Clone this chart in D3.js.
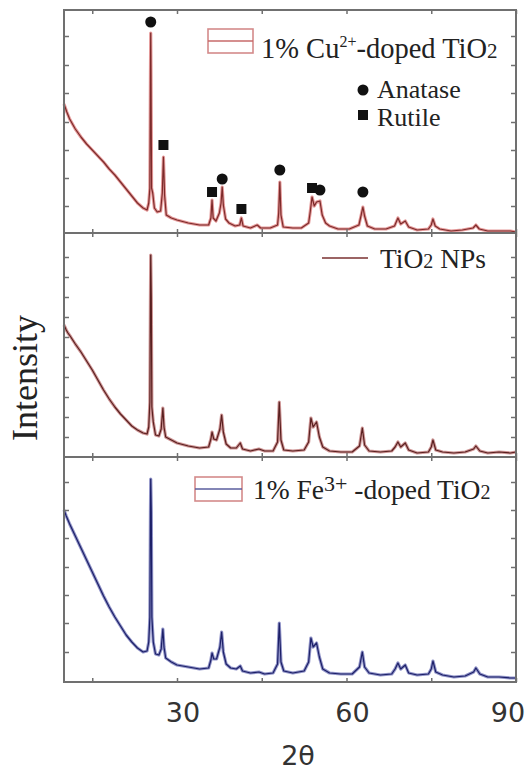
<!DOCTYPE html>
<meta charset="utf-8">
<style>
body { margin: 0; background: #fff; }
.frame { fill: none; stroke: #707070; stroke-width: 2px; }
.serif { font-family: "Liberation Serif", "DejaVu Serif", serif; fill: #222; }
.sans { font-family: "DejaVu Sans", sans-serif; fill: #333; }
</style>
<svg width="528" height="772"></svg>
<script src="https://d3js.org/d3.v7.min.js"></script>
<script>
// XRD patterns, 2theta (deg) vs intensity (a.u.)
var cuDoped = [
  [10.0,129],[10.5,121],[11,114],[12,104],[13,96],[14,89],[15,83],[16,77],[17,71],[18,64],
  [19,58],[20,51],[21,44],[22,37],[23,30],[24,25],[24.7,23],[25.0,30],[25.2,45],[25.3,160],
  [25.35,200],[25.4,160],[25.5,45],[25.7,40],[26.0,25],[26.5,21],[27.1,22],[27.4,40],[27.6,76],[27.8,38],
  [28.1,18],[29,15],[30,13],[32,10],[34,8],[35.6,8],[36.0,15],[36.2,33],[36.4,15],[36.9,12],
  [37.5,20],[37.8,30],[38.0,46],[38.2,28],[38.6,14],[39.2,10],[40.3,7],[41.1,8],[41.4,15],[41.7,7],
  [43,5],[44.2,8],[44.8,5],[46.5,5],[47.8,8],[48.0,20],[48.2,51],[48.4,18],[48.8,6],[50.5,5],
  [52,5],[53.3,10],[53.6,22],[53.9,36],[54.3,27],[54.7,31],[55.3,32],[55.7,18],[56.3,10],[57,7],
  [58.5,4],[60.5,4],[62.2,8],[62.6,18],[62.9,26],[63.2,17],[63.7,7],[65,4],[67,4],[68.5,7],
  [69.1,15],[69.6,9],[70.4,12],[71,6],[72.5,3],[74.5,4],[75.0,8],[75.3,14],[75.7,7],[76.5,4],
  [78.5,2],[80.5,3],[82.4,5],[82.9,8],[83.5,4],[85,2],[87,2],[89,2],[90,1]
];
var tio2 = [
  [10.0,132],[10.4,127],[10.7,124],[11.2,120],[12,113],[13,105],[14,96],[15,87],[16,77],[17,67],
  [18,58],[19,50],[20,43],[21,37],[22,31],[23,27],[24,24],[24.7,23],[25.0,30],[25.2,55],
  [25.3,160],[25.35,202],[25.45,160],[25.55,50],[25.8,35],[26.2,22],[26.8,21],[27.2,28],[27.5,49],[27.7,30],
  [28.0,20],[29,17],[30,14],[32,11],[34,9],[35.6,10],[36.0,18],[36.2,25],[36.5,18],[37.0,17],
  [37.6,28],[37.9,42],[38.2,25],[38.7,13],[39.5,9],[40.5,9],[41.2,14],[41.6,8],[43,6],[44.5,8],
  [45.5,6],[47,6],[47.8,15],[48.1,55],[48.4,17],[48.9,7],[50.5,6],[52.5,7],[53.3,15],[53.7,39],
  [54.1,30],[54.7,35],[55.2,20],[55.8,10],[57,6],[59,5],[61,5],[62.3,11],[62.8,29],[63.2,12],
  [64,6],[66,5],[68,6],[68.6,10],[69.1,15],[69.6,10],[70.4,14],[71,7],[72.5,4],[74.5,5],
  [75.0,10],[75.3,17],[75.8,7],[77,5],[79,4],[81,5],[82.5,8],[82.9,11],[83.6,6],[85,4],
  [87,5],[89,4],[90,5]
];
var feDoped = [
  [10.0,172],[10.4,166],[11,158],[12,146],[13,134],[14,122],[15,110],[16,98],[17,86],[18,75],
  [19,65],[20,56],[21,47],[22,40],[23,34],[24,30],[24.7,31],[25.0,40],[25.2,65],[25.3,170],
  [25.35,203],[25.45,170],[25.55,65],[25.8,40],[26.2,28],[26.8,27],[27.2,33],[27.5,53],[27.7,35],[28.0,24],
  [29,20],[30,17],[32,15],[34,13],[35.6,14],[36.0,22],[36.2,29],[36.5,23],[37.0,23],[37.6,35],
  [37.9,50],[38.2,30],[38.7,18],[39.5,14],[40.5,13],[41.2,16],[41.6,11],[43,9],[44.5,10],[45.5,8],
  [47,9],[47.8,18],[48.1,59],[48.4,20],[48.9,11],[50.5,9],[52.5,11],[53.3,20],[53.7,44],[54.1,35],
  [54.7,39],[55.2,25],[55.8,13],[57,9],[59,8],[61,8],[62.3,15],[62.8,30],[63.2,15],[64,9],
  [66,7],[68,8],[68.6,13],[69.1,19],[69.6,13],[70.4,17],[71,9],[72.5,7],[74.5,8],[75.0,13],
  [75.3,21],[75.8,10],[77,7],[79,5],[81,6],[82.5,10],[82.9,14],[83.6,8],[85,5],[87,5],
  [89,4],[90,4]
];
// phase markers on the Cu-doped pattern
var anatasePeaks = [[25.35,211],[38.0,54],[48.2,63],[55.3,43],[62.9,41]];
var rutilePeaks = [[27.6,88],[36.2,41],[41.4,24],[53.9,45]];

var xTicks = [15, 30, 45, 60, 75, 90];
var xLabels = [30, 60, 90];
var topTicks = [27, 55, 83, 111, 140, 168, 197];
var midTicks = [20, 40, 60, 80, 100, 120, 140, 160, 180, 200];
var botTicks = [30, 59, 87, 115, 144, 172, 200];

var svg = d3.select("svg");
var left = 64, right = 516;

var x = d3.scaleLinear().domain([10, 90]).range([left, right]);

var panels = [
  {data: cuDoped, top: 10, bottom: 233, max: 223, ticks: topTicks, halo: "#e59a9a", core: "#7d2b2b"},
  {data: tio2, top: 233, bottom: 457, max: 224, ticks: midTicks, halo: "#cf9797", core: "#5a2020"},
  {data: feDoped, top: 457, bottom: 682, max: 225, ticks: botTicks, halo: "#9194c8", core: "#1d2068"}
];

panels.forEach(function(p) {
  var y = d3.scaleLinear().domain([0, p.max]).range([p.bottom, p.top]);
  p.y = y;
  var g = svg.append("g");

  var line = d3.line()
    .x(function(d) { return x(d[0]); })
    .y(function(d) { return y(d[1]); });

  g.append("path").datum(p.data)
    .attr("d", line)
    .attr("fill", "none")
    .attr("stroke", p.halo)
    .attr("stroke-width", 3.2)
    .attr("stroke-linejoin", "round");
  g.append("path").datum(p.data)
    .attr("d", line)
    .attr("fill", "none")
    .attr("stroke", p.core)
    .attr("stroke-width", 1.2)
    .attr("stroke-linejoin", "round");

  // inward ticks on all four sides
  g.append("g").attr("transform", "translate(" + left + ",0)")
    .call(d3.axisRight(y).tickValues(p.ticks).tickSize(5).tickFormat(""));
  g.append("g").attr("transform", "translate(" + right + ",0)")
    .call(d3.axisLeft(y).tickValues(p.ticks).tickSize(5).tickFormat(""));
  g.append("g").attr("transform", "translate(0," + p.bottom + ")")
    .call(d3.axisTop(x).tickValues(xTicks).tickSize(4).tickFormat(""));
  g.append("g").attr("transform", "translate(0," + p.top + ")")
    .call(d3.axisBottom(x).tickValues(xTicks).tickSize(4).tickFormat(""));

  g.append("rect").attr("class", "frame")
    .attr("x", left).attr("y", p.top)
    .attr("width", right - left).attr("height", p.bottom - p.top);
});

svg.selectAll(".domain").remove();
svg.selectAll(".tick line").attr("stroke", "#707070").attr("stroke-width", 1.5);

// phase markers
var yTop = panels[0].y;
svg.selectAll(".anatase").data(anatasePeaks).enter().append("circle")
  .attr("cx", function(d) { return x(d[0]); })
  .attr("cy", function(d) { return yTop(d[1]); })
  .attr("r", 5.5).attr("fill", "#111");
svg.selectAll(".rutile").data(rutilePeaks).enter().append("rect")
  .attr("x", function(d) { return x(d[0]) - 5; })
  .attr("y", function(d) { return yTop(d[1]) - 5; })
  .attr("width", 10).attr("height", 10).attr("fill", "#111");

// legends
function serifText(tx, ty, size) {
  return svg.append("text").attr("class", "serif")
    .attr("x", tx).attr("y", ty)
    .style("font-size", size + "px");
}

// Cu legend
svg.append("rect").attr("x", 208).attr("y", 29).attr("width", 45).attr("height", 24)
  .attr("fill", "#fff").attr("stroke", "#d48a8a").attr("stroke-width", 1.6);
svg.append("line").attr("x1", 208).attr("x2", 253).attr("y1", 41).attr("y2", 41)
  .attr("stroke", "#c76a6a").attr("stroke-width", 1.6);
var cuText = serifText(261, 58, 28.5);
cuText.append("tspan").text("1% Cu");
cuText.append("tspan").attr("dy", -11).style("font-size", "16px").text("2+");
cuText.append("tspan").attr("dy", 11).text("-doped TiO");
cuText.append("tspan").style("font-size", "21px").text("2");

svg.append("circle").attr("cx", 363).attr("cy", 90).attr("r", 5.5).attr("fill", "#111");
svg.append("rect").attr("x", 358).attr("y", 110).attr("width", 10).attr("height", 10).attr("fill", "#111");
serifText(377, 98, 26).text("Anatase");
serifText(377, 126, 26).text("Rutile");

// TiO2 legend
svg.append("line").attr("x1", 322).attr("x2", 368).attr("y1", 258).attr("y2", 258)
  .attr("stroke", "#7a3030").attr("stroke-width", 1.6);
var npText = serifText(380, 268, 27.5);
npText.append("tspan").text("TiO");
npText.append("tspan").style("font-size", "20px").text("2");
npText.append("tspan").text(" NPs");

// Fe legend
svg.append("rect").attr("x", 195).attr("y", 477).attr("width", 47).attr("height", 24)
  .attr("fill", "#fff").attr("stroke", "#d48a8a").attr("stroke-width", 1.6);
svg.append("line").attr("x1", 195).attr("x2", 242).attr("y1", 489).attr("y2", 489)
  .attr("stroke", "#5a5e9e").attr("stroke-width", 1.6);
var feText = serifText(253, 499, 27.5);
feText.append("tspan").text("1% Fe");
feText.append("tspan").attr("dy", -8).style("font-size", "22px").text("3+");
feText.append("tspan").attr("dy", 8).text(" -doped TiO");
feText.append("tspan").style("font-size", "20px").text("2");

// x tick labels
svg.selectAll(".xlab").data(xLabels).enter().append("text")
  .attr("class", "sans")
  .attr("x", function(d) { return Math.min(x(d) + 6, 508); })
  .attr("y", 722)
  .attr("text-anchor", "middle")
  .style("font-size", "27px")
  .text(function(d) { return d; });

// axis titles
svg.append("text").attr("class", "sans")
  .attr("x", 298).attr("y", 765)
  .attr("text-anchor", "middle")
  .style("font-size", "27px")
  .text("2θ");

svg.append("text").attr("class", "serif")
  .attr("transform", "translate(37,378) rotate(-90)")
  .attr("text-anchor", "middle")
  .style("font-size", "36px")
  .text("Intensity");
</script>
